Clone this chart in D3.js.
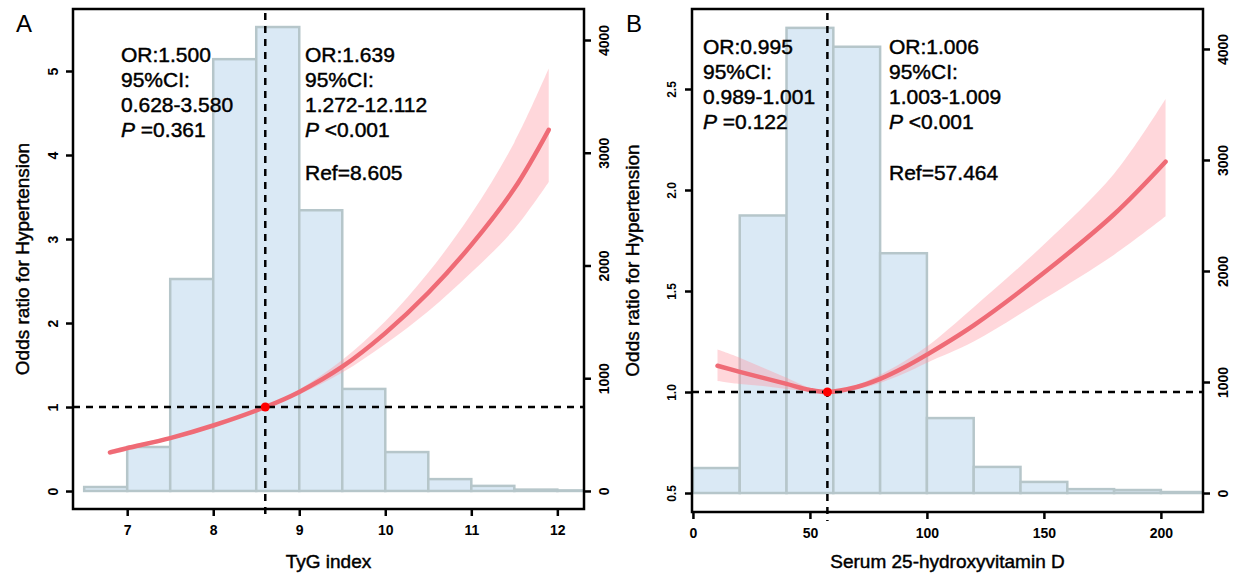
<!DOCTYPE html>
<html>
<head>
<meta charset="utf-8">
<script src="https://cdnjs.cloudflare.com/ajax/libs/d3/7.8.5/d3.min.js"></script>
<style>
  body { margin: 0; background: #fff; }
  svg { font-family: "Liberation Sans", Arial, sans-serif; }
  .domain { display: none; }
  .heavy { stroke: #000; stroke-width: 0.45px; }
  .tick text { font-weight: bold; }
</style>
</head>
<body>
<svg width="1239" height="577"></svg>
<script>
// ---- panel A : TyG index ----
var tygEdges  = [6.5, 7.0, 7.5, 8.0, 8.5, 9.0, 9.5, 10.0, 10.5, 11.0, 11.5, 12.0, 12.5];
var tygCounts = [35, 390, 1880, 3830, 4115, 2490, 905, 345, 105, 45, 12, 5];
var tygX      = [6.8, 7.0, 7.5, 8.0, 8.605, 9.0, 9.5, 10.0, 10.5, 11.0, 11.5, 11.9];
var tygOR     = [0.46, 0.51, 0.63, 0.78, 1.0, 1.18, 1.48, 1.88, 2.36, 2.93, 3.6, 4.3];
var tygLo     = [0.43, 0.48, 0.61, 0.76, 1.0, 1.15, 1.41, 1.75, 2.14, 2.6, 3.12, 3.68];
var tygHi     = [0.49, 0.54, 0.65, 0.80, 1.0, 1.21, 1.56, 2.02, 2.6, 3.3, 4.15, 5.03];
var tygRef    = 8.605;
var tygXTicks = [7, 8, 9, 10, 11, 12];
var tygYTicks = [0, 1, 2, 3, 4, 5];
var tygLeftText  = ["OR:1.500", "95%CI:", "0.628-3.580", "=0.361"];
var tygRightText = ["OR:1.639", "95%CI:", "1.272-12.112", "<0.001"];

// ---- panel B : serum 25-hydroxyvitamin D ----
var vitEdges  = [0, 20, 40, 60, 80, 100, 120, 140, 160, 180, 200, 220];
var vitCounts = [225, 2500, 4190, 4020, 2160, 675, 235, 100, 35, 27, 9];
var vitX      = [10.5, 20, 30, 40, 50, 57.464, 70, 80, 90, 100, 120, 150, 180, 202];
var vitOR     = [1.13, 1.10, 1.07, 1.04, 1.01, 1.0, 1.025, 1.065, 1.12, 1.185, 1.33, 1.59, 1.88, 2.14];
var vitLo     = [1.055, 1.04, 1.03, 1.015, 1.003, 1.0, 1.015, 1.045, 1.09, 1.145, 1.25, 1.46, 1.68, 1.87];
var vitHi     = [1.21, 1.17, 1.12, 1.07, 1.02, 1.0, 1.035, 1.085, 1.15, 1.225, 1.42, 1.73, 2.08, 2.45];
var vitRef    = 57.464;
var vitXTicks = [0, 50, 100, 150, 200];
var vitYTicks = [0.5, 1.0, 1.5, 2.0, 2.5];
var vitLeftText  = ["OR:0.995", "95%CI:", "0.989-1.001", "=0.122"];
var vitRightText = ["OR:1.006", "95%CI:", "1.003-1.009", "<0.001"];

var countTicks = [0, 1000, 2000, 3000, 4000];

var svg = d3.select("svg");

var panels = [
  { id: "A", letter: "A", xTitle: "TyG index",
    edges: tygEdges, counts: tygCounts, cx: tygX, or: tygOR, lo: tygLo, hi: tygHi, ref: tygRef,
    xTicks: tygXTicks, yTicks: tygYTicks, yFmt: d3.format("d"), yFont: 14,
    leftText: tygLeftText, rightText: tygRightText, refText: "Ref=8.605",
    left: 73, right: 584, top: 9, bottom: 509,
    xDom: [6.37, 12.31], orDom: [-0.214, 5.738], nDom: [-160, 4275],
    textTop: 62, letterX: 16, yTitleX: 29, textLX: 121, textRX: 305 },
  { id: "B", letter: "B", xTitle: "Serum 25-hydroxyvitamin D",
    edges: vitEdges, counts: vitCounts, cx: vitX, or: vitOR, lo: vitLo, hi: vitHi, ref: vitRef,
    xTicks: vitXTicks, yTicks: vitYTicks, yFmt: d3.format(".1f"), yFont: 12,
    leftText: vitLeftText, rightText: vitRightText, refText: "Ref=57.464",
    left: 692, right: 1203, top: 9, bottom: 512,
    xDom: [-0.4, 218], orDom: [0.406, 2.896], nDom: [-171, 4360],
    textTop: 54, letterX: 626, yTitleX: 639, textLX: 703, textRX: 889 }
];

panels.forEach(drawPanel);

function drawPanel(p) {
  var x   = d3.scaleLinear().domain(p.xDom).range([p.left, p.right]);
  var yOR = d3.scaleLinear().domain(p.orDom).range([p.bottom, p.top]);
  var yN  = d3.scaleLinear().domain(p.nDom).range([p.bottom, p.top]);

  svg.append("clipPath").attr("id", "clip" + p.id)
    .append("rect")
      .attr("x", p.left).attr("y", p.top)
      .attr("width", p.right - p.left).attr("height", p.bottom - p.top);

  var g = svg.append("g").attr("clip-path", "url(#clip" + p.id + ")");

  // histogram
  g.selectAll("rect.bar")
    .data(p.counts)
    .enter()
    .append("rect")
      .attr("class", "bar")
      .attr("x", (d, i) => x(p.edges[i]))
      .attr("width", (d, i) => x(p.edges[i + 1]) - x(p.edges[i]))
      .attr("y", d => yN(d))
      .attr("height", d => yN(0) - yN(d))
      .style("fill", "#dae9f5")
      .style("stroke", "#b6c6ca")
      .style("stroke-width", 2.5);

  var pts = p.cx.map((v, i) => ({ x: v, or: p.or[i], lo: p.lo[i], hi: p.hi[i] }));

  var band = d3.area()
    .x(d => x(d.x))
    .y0(d => yOR(d.lo))
    .y1(d => yOR(d.hi))
    .curve(d3.curveCatmullRom.alpha(0.5));

  var line = d3.line()
    .x(d => x(d.x))
    .y(d => yOR(d.or))
    .curve(d3.curveCatmullRom.alpha(0.5));

  g.append("path")
    .attr("d", band(pts))
    .style("fill", "rgba(255,150,160,0.38)");

  g.append("path")
    .attr("d", line(pts))
    .style("fill", "none")
    .style("stroke", "#ef6b76")
    .style("stroke-width", 4.5)
    .style("stroke-linecap", "round");

  // reference lines
  svg.append("line")
    .attr("x1", p.left).attr("x2", p.right)
    .attr("y1", yOR(1)).attr("y2", yOR(1))
    .style("stroke", "#000").style("stroke-width", 2.5)
    .style("stroke-dasharray", "7,6");

  svg.append("line")
    .attr("x1", x(p.ref)).attr("x2", x(p.ref))
    .attr("y1", p.top + 4).attr("y2", p.bottom + 9)
    .style("stroke", "#000").style("stroke-width", 2.5)
    .style("stroke-dasharray", "7,6");

  svg.append("circle")
    .attr("cx", x(p.ref)).attr("cy", yOR(1)).attr("r", 4.5)
    .style("fill", "#ff0000");

  // frame
  svg.append("rect")
    .attr("x", p.left).attr("y", p.top)
    .attr("width", p.right - p.left).attr("height", p.bottom - p.top)
    .style("fill", "none").style("stroke", "#000").style("stroke-width", 2.5);

  // axes
  var ax = svg.append("g")
    .attr("transform", `translate(0,${p.bottom})`)
    .call(d3.axisBottom(x).tickValues(p.xTicks).tickFormat(d3.format("d")).tickSize(7).tickSizeOuter(0));
  ax.selectAll("line").style("stroke-width", 2.5);
  ax.selectAll("text").attr("y", 26).attr("dy", null)
    .style("font-size", "14px").style("font-family", "inherit");

  var al = svg.append("g")
    .attr("transform", `translate(${p.left},0)`)
    .call(d3.axisLeft(yOR).tickValues(p.yTicks).tickFormat(p.yFmt).tickSize(7).tickSizeOuter(0));
  al.selectAll("line").style("stroke-width", 2.5);
  al.selectAll("text")
    .attr("x", null).attr("dy", "0.35em")
    .attr("text-anchor", "middle")
    .attr("transform", "translate(-20,0) rotate(-90)")
    .style("font-size", p.yFont + "px").style("font-family", "inherit");

  var ar = svg.append("g")
    .attr("transform", `translate(${p.right},0)`)
    .call(d3.axisRight(yN).tickValues(countTicks).tickFormat(d3.format("d")).tickSize(7).tickSizeOuter(0));
  ar.selectAll("line").style("stroke-width", 2.5);
  ar.selectAll("text")
    .attr("x", null).attr("dy", "0.35em")
    .attr("text-anchor", "middle")
    .attr("transform", "translate(20,0) rotate(-90)")
    .style("font-size", "14px").style("font-family", "inherit");

  // titles
  svg.append("text")
    .attr("class", "heavy")
    .attr("x", (p.left + p.right) / 2).attr("y", 568)
    .attr("text-anchor", "middle")
    .style("font-size", "19px")
    .text(p.xTitle);

  svg.append("text")
    .attr("class", "heavy")
    .attr("transform", `translate(${p.yTitleX},${(p.top + p.bottom) / 2}) rotate(-90)`)
    .attr("text-anchor", "middle")
    .style("font-size", "19px")
    .text("Odds ratio for Hypertension");

  svg.append("text")
    .attr("x", p.letterX).attr("y", 32)
    .style("font-size", "24px")
    .text(p.letter);

  // annotations
  [[p.leftText, p.textLX], [p.rightText, p.textRX]].forEach(function (blk) {
    blk[0].forEach(function (s, i) {
      var t = svg.append("text")
        .attr("class", "heavy")
        .attr("x", blk[1]).attr("y", p.textTop + i * 25)
        .style("font-size", "21px");
      if (i === 3) {
        t.append("tspan").style("font-style", "italic").text("P");
        t.append("tspan").text(" " + s);
      } else {
        t.text(s);
      }
    });
  });

  svg.append("text")
    .attr("class", "heavy")
    .attr("x", p.textRX).attr("y", 180)
    .style("font-size", "21px")
    .text(p.refText);
}
</script>
</body>
</html>
